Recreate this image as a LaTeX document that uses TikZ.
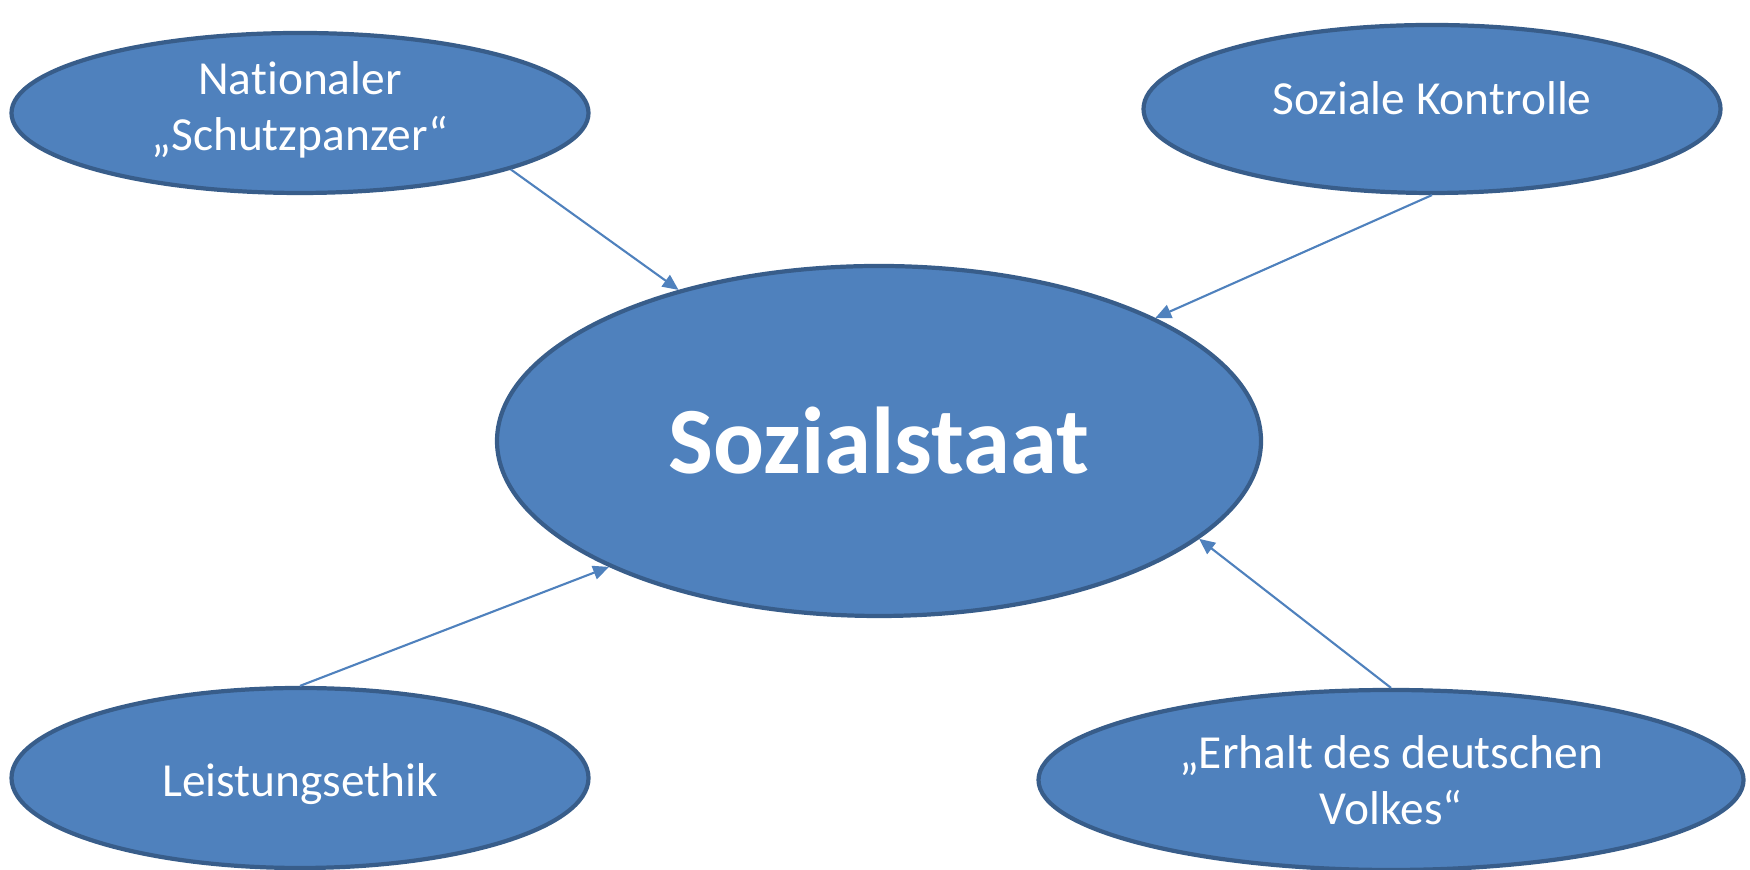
\documentclass[tikz,border=0pt]{standalone}
\usepackage{fontspec}
\setmainfont{Carlito}[Ligatures=NoCommon]
\usetikzlibrary{arrows.meta, shapes.geometric}
\definecolor{bfill}{HTML}{4F81BD}
\definecolor{bline}{HTML}{385D8A}
\tikzset{%
    bub/.style={ellipse, draw=bline, fill=bfill, line width=1.2pt, inner sep=0pt,
        text=white, align=center, font=\fontsize{13.5}{16}\selectfont},
    hub/.style={bub, font=\fontsize{27}{32}\selectfont\bfseries},
    lnk/.style={draw=bfill, line width=0.6pt, -{Triangle[length=4.5pt, width=4pt]}},
}
\begin{document}
\begin{tikzpicture}
    \useasboundingbox (0,0) rectangle (17.5,8.7);
    \node [hub, minimum width=7.64cm, minimum height=3.50cm] (staat) at (8.79,4.29) {Sozialstaat};
    \node [bub, minimum width=5.77cm, minimum height=1.60cm, text depth=4pt] (schutz) at (3.00,7.57) {Nationaler\\„Schutzpanzer“};
    \node [bub, minimum width=5.77cm, minimum height=1.68cm, text depth=6pt] (kontr) at (14.32,7.61) {Soziale Kontrolle};
    \node [bub, minimum width=5.77cm, minimum height=1.80cm, text height=13pt] (leist) at (3.00,0.92) {Leistungsethik};
    \node [bub, minimum width=7.05cm, minimum height=1.80cm] (volk) at (13.91,0.90) {„Erhalt des deutschen\\Volkes“};
    \draw [lnk](schutz.-15) -- (staat.143);
    \draw [lnk](kontr.south) -- (staat.24);
    \draw [lnk](leist.north) -- (staat.205);
    \draw [lnk](volk.north) -- (staat.-17);
\end{tikzpicture}
\end{document}
